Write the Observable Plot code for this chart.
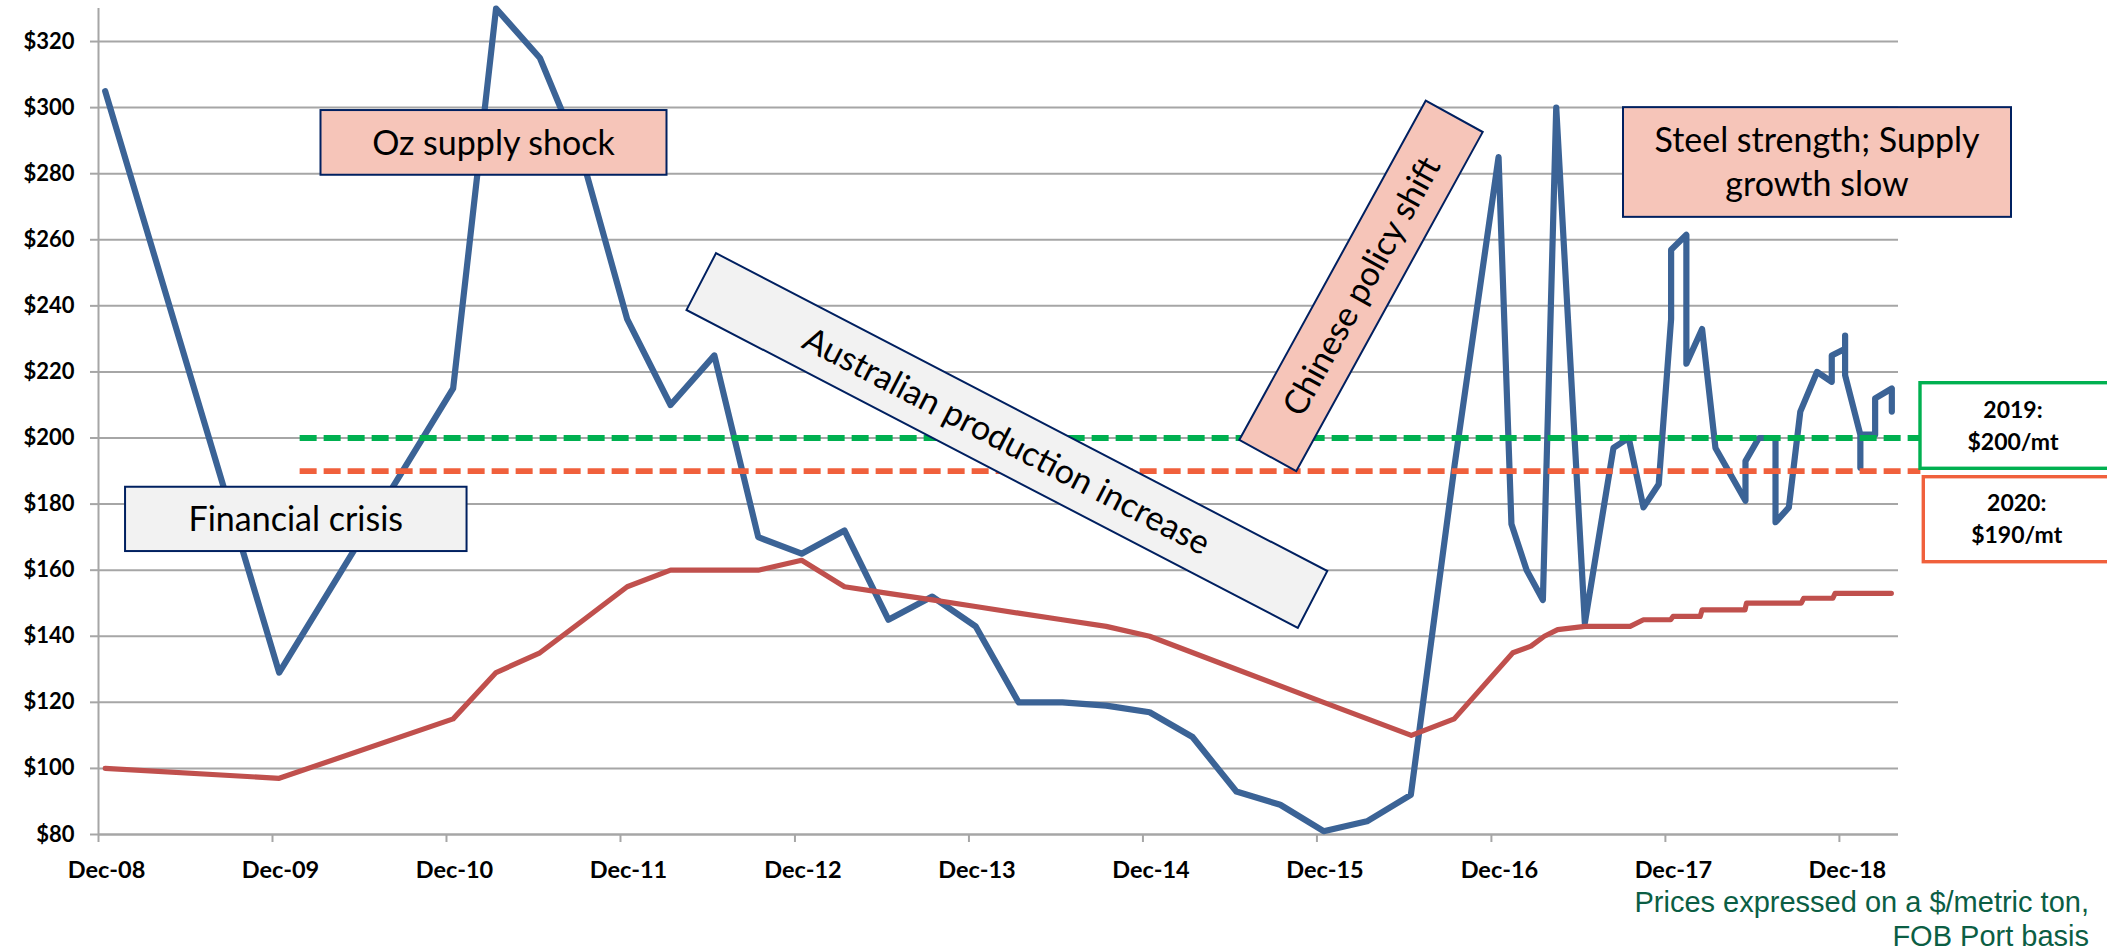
<!DOCTYPE html>
<html>
<head>
<meta charset="utf-8">
<script src="https://cdn.jsdelivr.net/npm/d3@7"></script>
<script src="https://cdn.jsdelivr.net/npm/@observablehq/plot@0.6"></script>
<style>
  html, body { margin: 0; padding: 0; background: #fff; overflow: hidden; }
  svg { display: block; }
</style>
</head>
<body>
<div id="chart"></div>
<script>
// Spot price, FOB port ($/metric ton)
const spotDates = [
  "2008-12-15", "2009-12-15", "2010-12-15", "2011-03-15", "2011-06-15", "2011-09-15", "2011-12-15",
  "2012-03-15", "2012-06-15", "2012-09-15", "2012-12-15", "2013-03-15", "2013-06-15", "2013-09-15",
  "2013-12-15", "2014-03-15", "2014-06-15", "2014-09-15", "2014-12-15", "2015-03-15", "2015-06-15",
  "2015-09-15", "2015-12-15", "2016-03-15", "2016-06-15", "2016-09-15", "2016-12-16", "2017-01-12",
  "2017-02-13", "2017-03-19", "2017-04-16", "2017-06-15", "2017-08-14", "2017-09-15", "2017-10-16",
  "2017-11-17", "2017-12-13", "2017-12-13", "2018-01-14", "2018-01-14", "2018-02-16", "2018-03-16",
  "2018-05-18", "2018-05-18", "2018-06-15", "2018-07-20", "2018-07-20", "2018-08-17", "2018-09-10",
  "2018-10-15", "2018-11-15", "2018-11-15", "2018-12-13", "2018-12-13", "2018-12-13", "2019-01-14",
  "2019-01-14", "2019-01-14", "2019-02-14", "2019-02-14", "2019-03-21", "2019-03-21"
];
const spotPrices = [
  305, 129, 215, 330, 315, 283, 236,
  210, 225, 170, 165, 172, 145, 152,
  143, 120, 120, 119, 117, 109.5, 93,
  89, 81, 84, 92, 192, 285, 174,
  160, 151, 300, 144, 197, 200, 179,
  186, 236, 257, 261.5, 222.5, 233, 197,
  181, 193, 200, 200, 174.5, 179, 208,
  220, 217, 225, 227, 231, 219, 201,
  191, 201, 201, 212, 215, 208
];

// Benchmark price ($/metric ton)
const benchDates = [
  "2008-12-15", "2009-12-15", "2010-12-15", "2011-03-15", "2011-06-15", "2011-09-15", "2011-12-15",
  "2012-03-15", "2012-06-15", "2012-09-15", "2012-12-15", "2013-03-15", "2013-06-15", "2013-09-15",
  "2013-12-15", "2014-03-15", "2014-06-15", "2014-09-15", "2014-12-15", "2015-06-15", "2015-12-15",
  "2016-06-16", "2016-09-14", "2017-01-15", "2017-02-22", "2017-03-22", "2017-04-19", "2017-06-15",
  "2017-09-18", "2017-10-16", "2017-12-12", "2017-12-17", "2018-02-12", "2018-02-16", "2018-05-17",
  "2018-05-20", "2018-09-12", "2018-09-17", "2018-11-17", "2018-11-22", "2019-03-20"
];
const benchPrices = [
  100, 97, 115, 129, 135, 145, 155,
  160, 160, 160, 163, 155, 153, 151,
  149, 147, 145, 143, 140, 130, 120,
  110, 115, 135, 137, 140, 142, 143,
  143, 145, 145, 146, 146, 148, 148,
  150, 150, 151.5, 151.5, 153, 153
];

// Price targets
const targetYears = ["2019", "2020"];
const targetPrices = [200, 190];
const targetColors = ["#00B050", "#F0603C"];
const targetSpan = ["2010-01-28", "2019-05-21"];

// Axes
const yTicks = [80, 100, 120, 140, 160, 180, 200, 220, 240, 260, 280, 300, 320];
const xTickDates = ["2008-12-01", "2009-12-01", "2010-12-01", "2011-12-01", "2012-12-01", "2013-12-01",
                    "2014-12-01", "2015-12-01", "2016-12-01", "2017-12-01", "2018-12-01"];
const xDomain = ["2008-12-01", "2019-04-04"];
const yDomain = [80, 330];

// Annotation texts
const noteOz = ["Oz supply shock"];
const noteCrisis = ["Financial crisis"];
const noteAus = ["Australian production increase"];
const noteChina = ["Chinese policy shift"];
const noteSteel = ["Steel strength; Supply", "growth slow"];
const captionLines = ["Prices expressed on a $/metric ton,", "FOB Port basis"];

const parse = d3.utcParse("%Y-%m-%d");
const spot = spotDates.map((d, i) => ({date: parse(d), price: spotPrices[i]}));
const bench = benchDates.map((d, i) => ({date: parse(d), price: benchPrices[i]}));
const targets = targetPrices.map((p, i) => ({year: targetYears[i], price: p, color: targetColors[i],
  x1: parse(targetSpan[0]), x2: parse(targetSpan[1])}));
const xTicks = xTickDates.map(parse);
const fmt = d3.utcFormat("%b-%y");

const W = 2107, H = 951;
const plot = Plot.plot({
  width: W,
  height: H,
  marginLeft: 98,
  marginRight: 209,
  marginTop: 8,
  marginBottom: 117,
  style: {fontFamily: "Lato, sans-serif", fontWeight: 700, fontSize: "22px", color: "#000", background: "#fff", overflow: "visible"},
  x: {type: "utc", domain: xDomain.map(parse), label: null},
  y: {domain: yDomain, label: null},
  marks: [
    Plot.gridY(yTicks, {stroke: "#A6A6A6", strokeOpacity: 1, strokeWidth: 2}),
    Plot.axisY(yTicks, {label: null, tickSize: 8, tickPadding: 16, tickFormat: d => "$" + d, stroke: "#A6A6A6", strokeWidth: 2, fill: "#000"}),
    Plot.axisX(xTicks, {label: null, tickSize: 8, tickFormat: () => "", stroke: "#A6A6A6", strokeWidth: 2}),
    Plot.text(xTicks, {x: d => d, frameAnchor: "bottom", dy: 36, dx: 8, text: fmt, fill: "#000", fontSize: 23.5, lineAnchor: "middle"}),
    Plot.ruleX([parse(xDomain[0])], {stroke: "#A6A6A6", strokeWidth: 2}),
    Plot.ruleY([yDomain[0]], {stroke: "#A6A6A6", strokeWidth: 2}),
    Plot.line(spot, {x: "date", y: "price", stroke: "#3B6396", strokeWidth: 6.2, strokeLinejoin: "round", strokeLinecap: "round"}),
    Plot.line(bench, {x: "date", y: "price", stroke: "#C0504D", strokeWidth: 5.2, strokeLinejoin: "round", strokeLinecap: "round"}),
    Plot.ruleY(targets, {y: "price", x1: "x1", x2: "x2", stroke: "color", strokeWidth: 5.8, strokeDasharray: "17,7"})
  ]
});
document.getElementById("chart").appendChild(plot);

// Annotation boxes drawn over the chart
const svg = d3.select(plot);
const notes = svg.append("g").attr("font-family", "Lato, sans-serif").attr("font-weight", 400);

function box({cx, cy, w, h, angle = 0, fill, stroke, strokeWidth, lines, size, weight = 400, lineGap = 0}) {
  const g = notes.append("g").attr("transform", `translate(${cx},${cy}) rotate(${angle})`);
  g.append("rect").attr("x", -w / 2).attr("y", -h / 2).attr("width", w).attr("height", h)
    .attr("fill", fill).attr("stroke", stroke).attr("stroke-width", strokeWidth);
  const n = lines.length;
  lines.forEach((t, i) => {
    g.append("text").attr("x", 0).attr("y", (i - (n - 1) / 2) * lineGap)
      .attr("dy", "0.36em").attr("text-anchor", "middle")
      .attr("font-size", size).attr("font-weight", weight).attr("fill", "#000").text(t);
  });
  return g;
}

const navy = "#002060";
box({cx: 493.5, cy: 142.4, w: 346, h: 64.7, fill: "#F6C5B9", stroke: navy, strokeWidth: 2, lines: noteOz, size: 34});
box({cx: 295.8, cy: 518.9, w: 341.5, h: 64.3, fill: "#F2F2F2", stroke: navy, strokeWidth: 2, lines: noteCrisis, size: 34});
box({cx: 1006.9, cy: 440.5, w: 689, h: 64, angle: 27.47, fill: "#F2F2F2", stroke: navy, strokeWidth: 2, lines: noteAus, size: 34});
box({cx: 1361, cy: 285.9, w: 387, h: 65, angle: -61.2, fill: "#F6C5B9", stroke: navy, strokeWidth: 2, lines: noteChina, size: 34});
box({cx: 1817, cy: 162, w: 388, h: 109.7, fill: "#F6C5B9", stroke: navy, strokeWidth: 2, lines: noteSteel, size: 34, lineGap: 44});

// Target boxes at the right edge
const targetBoxes = [
  {x: 1920, y: 382.7, h: 85.6, tx: 2013},
  {x: 1923.3, y: 476.7, h: 85, tx: 2016.7}
];
targets.forEach((t, i) => {
  const b = targetBoxes[i];
  const g = notes.append("g");
  g.append("rect").attr("x", b.x).attr("y", b.y).attr("width", 220).attr("height", b.h)
    .attr("fill", "#fff").attr("stroke", t.color).attr("stroke-width", 3.4);
  [`${t.year}:`, `$${t.price}/mt`].forEach((s, j) => {
    g.append("text").attr("x", b.tx).attr("y", b.y + b.h / 2 + (j - 0.5) * 32)
      .attr("dy", "0.36em").attr("text-anchor", "middle")
      .attr("font-size", 23).attr("font-weight", 700).attr("fill", "#000").text(s);
  });
});

// Footnote
const cap = svg.append("g").attr("font-family", "'Liberation Sans', Arial, sans-serif")
  .attr("font-size", 29).attr("font-weight", 400).attr("fill", "#0B5E44").attr("text-anchor", "end");
captionLines.forEach((s, i) => {
  cap.append("text").attr("x", 2089).attr("y", 911.7 + i * 34).text(s);
});
</script>
</body>
</html>
